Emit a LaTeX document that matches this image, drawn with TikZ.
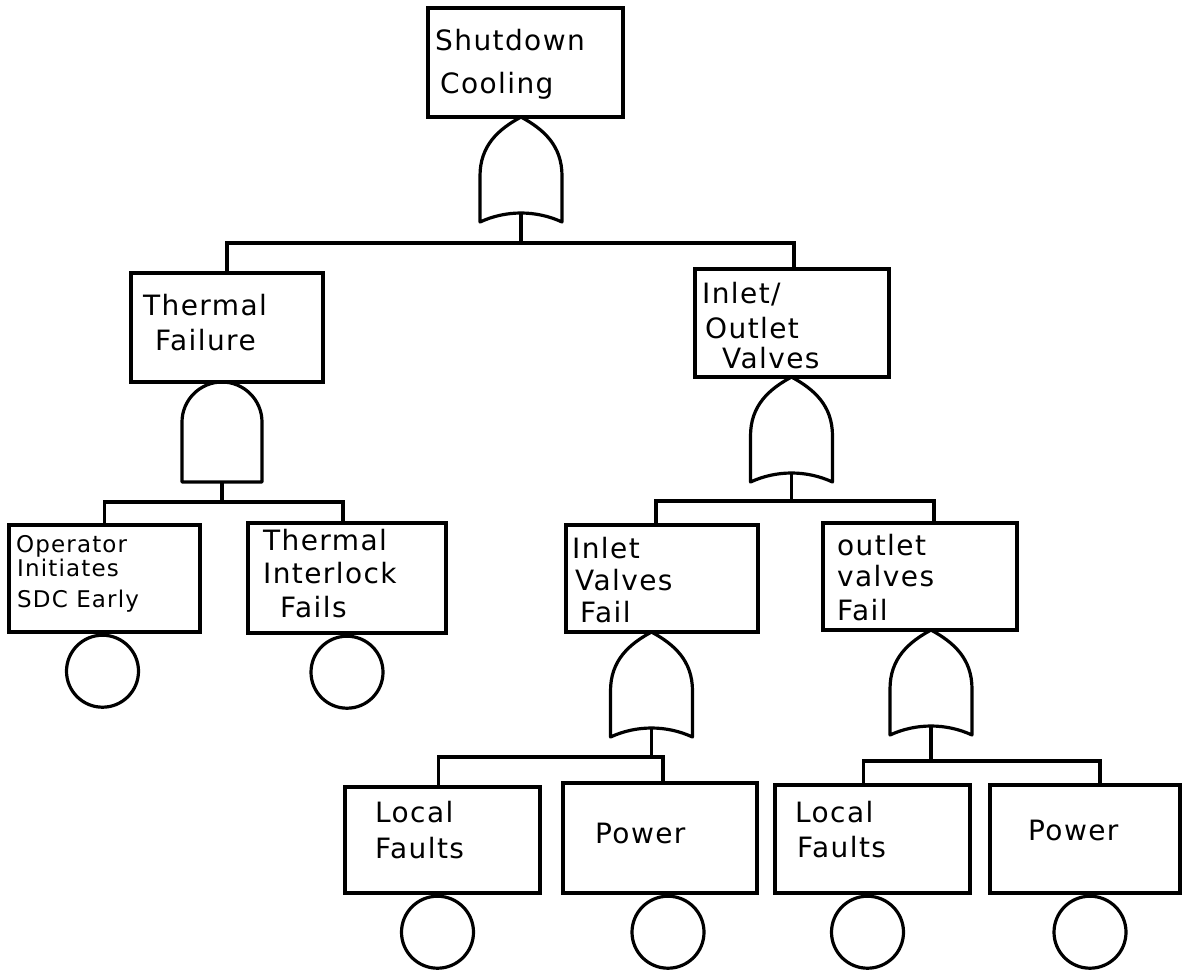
\documentclass[tikz,border=0pt]{standalone}
\usepackage{fontspec}
\setmainfont{DejaVu Sans}[LetterSpace=5]
\newcommand\bigtxt{\fontsize{28}{32}\selectfont}
\newcommand\smtxt{\fontsize{23}{27}\selectfont}
\tikzset{
  evbox/.style={draw, rectangle, line width=3.2pt, inner sep=0pt},
  basic/.style={draw, circle, line width=3.2pt, inner sep=0pt, minimum size=72pt, anchor=north},
  lbl/.style={anchor=base west, inner sep=0pt, font=\bigtxt},
  slbl/.style={anchor=base west, inner sep=0pt, font=\smtxt},
  conn/.style={line width=3.2pt},
  gateline/.style={line width=3.2pt, line join=round},
  orgate/.pic={
    \draw[gateline] (0,0) .. controls (-22,12) and (-41,28) .. (-41,59) -- (-41,105)
      .. controls (-15,93) and (15,93) .. (41,105) -- (41,59)
      .. controls (41,28) and (22,12) .. (0,0) -- cycle;
    \coordinate (-tip) at (0,0);
    \coordinate (-out) at (0,96);
  },
  andgate/.pic={
    \draw[gateline] (-40,100) -- (-40,40) .. controls (-40,18) and (-22,0) .. (0,0)
      .. controls (22,0) and (40,18) .. (40,40) -- (40,100) -- cycle;
    \coordinate (-tip) at (0,0);
    \coordinate (-out) at (0,100);
  }
}
\begin{document}
\begin{tikzpicture}[x=1pt,y=-1pt]
\fill[white] (0,0) rectangle (1185,970);
\useasboundingbox (0,0) rectangle (1185,970);

% event boxes
\node[evbox, minimum width=195pt, minimum height=109pt] (top) at (525.5,62.5) {};
\node[evbox, minimum width=192pt, minimum height=109pt] (tf)  at (227,327.5) {};
\node[evbox, minimum width=194pt, minimum height=108pt] (io)  at (792,323) {};
\node[evbox, minimum width=191pt, minimum height=107pt] (op)  at (104.5,578.5) {};
\node[evbox, minimum width=198pt, minimum height=110pt] (ti)  at (347,578) {};
\node[evbox, minimum width=192pt, minimum height=107pt] (ivf) at (662,578.5) {};
\node[evbox, minimum width=194pt, minimum height=107pt] (ovf) at (920,576.5) {};
\node[evbox, minimum width=195pt, minimum height=106pt] (lfa) at (442.5,840) {};
\node[evbox, minimum width=194pt, minimum height=110pt] (pwa) at (660,838) {};
\node[evbox, minimum width=195pt, minimum height=108pt] (lfb) at (872.5,839) {};
\node[evbox, minimum width=190pt, minimum height=108pt] (pwb) at (1085,839) {};

% labels
\node[lbl] (t1a) at (435,50) {Shutdown};
\node[lbl] (t1b) at (440,93) {Cooling};
\node[lbl] (t2a) at (143,315) {Thermal};
\node[lbl] (t2b) at (155,350) {Failure};
\node[slbl] (t3a) at (16,552) {Operator};
\node[slbl] (t3b) at (17,576) {Initiates};
\node[slbl] (t3c) at (17,607) {SDC Early};
\node[lbl] (t4a) at (263,550) {Thermal};
\node[lbl] (t4b) at (263,583) {Interlock};
\node[lbl] (t4c) at (280,617) {Fails};
\node[lbl] (t5a) at (702,303) {Inlet/};
\node[lbl] (t5b) at (705,338) {Outlet};
\node[lbl] (t5c) at (722,368) {Valves};
\node[lbl] (t6a) at (572,558) {Inlet};
\node[lbl] (t6b) at (575,590) {Valves};
\node[lbl] (t6c) at (580,622) {Fail};
\node[lbl] (t7a) at (837,555) {outlet};
\node[lbl] (t7b) at (837,586) {valves};
\node[lbl] (t7c) at (837,620) {Fail};
\node[lbl] (t8a) at (375,822) {Local};
\node[lbl] (t8b) at (375,858) {Faults};
\node[lbl] (t9a) at (595,843) {Power};
\node[lbl] (t10a) at (795,822) {Local};
\node[lbl] (t10b) at (797,857) {Faults};
\node[lbl] (t11a) at (1028,840) {Power};

% gates
\pic (g1) at (521,117) {orgate};
\pic (g2) at (222,382) {andgate};
\pic (g3) at (791.5,377) {orgate};
\pic (g4) at (651.5,632) {orgate};
\pic (g5) at (931,630) {orgate};

% basic events
\node[basic] (c1) at ([xshift=-2pt]op.south) {};
\node[basic] (c2) at (ti.south) {};
\node[basic] (c3) at ([xshift=-5pt]lfa.south) {};
\node[basic] (c4) at ([xshift=8pt]pwa.south) {};
\node[basic] (c5) at ([xshift=-5pt]lfb.south) {};
\node[basic] (c6) at ([xshift=5pt]pwb.south) {};

% connector anchor points
\coordinate (bar1) at (0,243);
\coordinate (bar2) at (0,502);
\coordinate (bar3) at (0,501);
\coordinate (bar4) at (0,757);
\coordinate (bar5) at (0,761);
\coordinate (ioT)  at ([xshift=2pt]io.north);
\coordinate (tiT)  at ([xshift=-4pt]ti.north);
\coordinate (ivfT) at ([xshift=-6pt]ivf.north);
\coordinate (ovfT) at ([xshift=14pt]ovf.north);
\coordinate (lfaT) at ([xshift=-4pt]lfa.north);
\coordinate (pwaT) at ([xshift=3pt]pwa.north);
\coordinate (lfbT) at ([xshift=-9pt]lfb.north);
\coordinate (pwbT) at ([xshift=15pt]pwb.north);

% connectors
\draw[conn] (g1-out) -- (g1-out |- bar1);
\draw[conn] (tf.north) |- (ioT |- bar1) -- (ioT);
\draw[conn] (g2-out) -- (g2-out |- bar2);
\draw[conn] (op.north) |- (tiT |- bar2) -- (tiT);
\draw[conn] (g3-out) -- (g3-out |- bar3);
\draw[conn] (ivfT) |- (ovfT |- bar3) -- (ovfT);
\draw[conn] (g4-out) -- (g4-out |- bar4);
\draw[conn] (lfaT) |- (pwaT |- bar4) -- (pwaT);
\draw[conn] (g5-out) -- (g5-out |- bar5);
\draw[conn] (lfbT) |- (pwbT |- bar5) -- (pwbT);
\end{tikzpicture}
\end{document}
